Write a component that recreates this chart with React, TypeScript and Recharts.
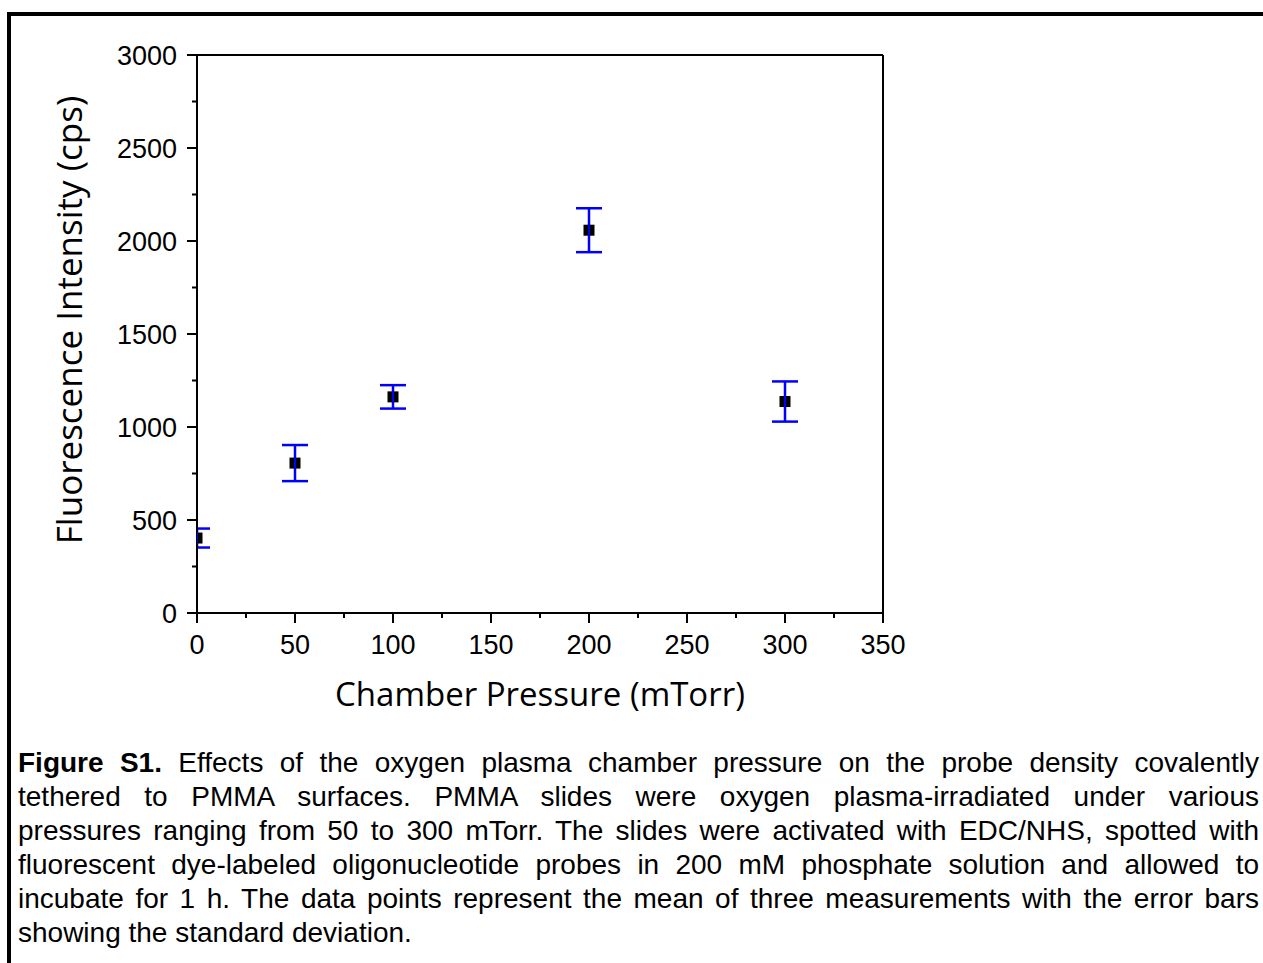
import { ScatterChart, Scatter, XAxis, YAxis, ErrorBar } from "recharts";

// chamber pressure (mTorr)
const pressure = [0, 50, 100, 200, 300];
// mean fluorescence intensity (cps)
const intensity = [403, 806, 1162, 2058, 1137];
// standard deviation (cps)
const stdDev = [51, 97, 63, 118, 108];

const xTicks = [0, 25, 50, 75, 100, 125, 150, 175, 200, 225, 250, 275, 300, 325, 350];
const yTicks = [0, 250, 500, 750, 1000, 1250, 1500, 1750, 2000, 2250, 2500, 2750, 3000];

const captionLines = [
  "tethered to PMMA surfaces. PMMA slides were oxygen plasma-irradiated under various",
  "pressures ranging from 50 to 300 mTorr. The slides were activated with EDC/NHS, spotted with",
  "fluorescent dye-labeled oligonucleotide probes in 200 mM phosphate solution and allowed to",
  "incubate for 1 h. The data points represent the mean of three measurements with the error bars",
  "showing the standard deviation.",
];

const data = pressure.map((p, i) => ({
  pressure: p,
  intensity: intensity[i],
  sd: stdDev[i],
}));

const W = 1263;
const H = 730;
const M = { top: 55, right: 380, bottom: 0, left: 0 };
const Y_AXIS_W = 197;
const X_AXIS_H = 117;

const tickFont = { fontFamily: "'Liberation Sans', Arial, sans-serif", fontSize: 27 };

const XTick = (props: any) => {
  const { x, y, payload } = props;
  const major = payload.value % 50 === 0;
  const axisY = y - 22;
  return (
    <g>
      <line x1={x} x2={x} y1={axisY} y2={axisY + (major ? 10 : 5)} stroke="#000" strokeWidth={2} />
      {major && (
        <text x={x} y={y} dy="0.72em" textAnchor="middle" fill="#000" {...tickFont}>
          {payload.value}
        </text>
      )}
    </g>
  );
};

const YTick = (props: any) => {
  const { x, y, payload } = props;
  const major = payload.value % 500 === 0;
  const axisX = x + 20;
  return (
    <g>
      <line x1={axisX} x2={axisX - (major ? 10 : 5)} y1={y} y2={y} stroke="#000" strokeWidth={2} />
      {major && (
        <text x={x} y={y} dy="0.36em" textAnchor="end" fill="#000" {...tickFont}>
          {payload.value}
        </text>
      )}
    </g>
  );
};

const YLabel = (props: any) => {
  const { viewBox } = props;
  const cy = viewBox.y + viewBox.height / 2 - 14;
  return (
    <text
      transform={`translate(82, ${cy}) rotate(-90)`}
      textAnchor="middle"
      fill="#000"
      fontFamily="'Open Sans', sans-serif"
      fontSize={35}
    >
      Fluorescence Intensity (cps)
    </text>
  );
};

const Square = (props: any) => {
  const { cx, cy } = props;
  return (
    <g clipPath="url(#plot-clip)">
      <rect x={cx - 5.5} y={cy - 5.5} width={11} height={11} fill="#000" />
      <line x1={cx} x2={cx} y1={cy - 5.5} y2={cy + 5.5} stroke="#0000ff" strokeWidth={2} />
    </g>
  );
};

const axisLine = { stroke: "#000", strokeWidth: 2 };

export default function App() {
  const plotX = M.left + Y_AXIS_W;
  const plotY = M.top;
  const plotW = W - plotX - M.right;
  const plotH = H - M.top - M.bottom - X_AXIS_H;
  return (
    <div
      style={{
        position: "absolute",
        left: 0,
        top: 0,
        width: 1263,
        height: 963,
        overflow: "hidden",
        background: "#fff",
      }}
    >
      <div
        style={{
          position: "absolute",
          left: 7,
          top: 12,
          width: 1400,
          height: 1100,
          borderLeft: "4px solid #000",
          borderTop: "4px solid #000",
        }}
      />
      <div style={{ position: "absolute", left: 0, top: 0 }}>
        <ScatterChart width={W} height={H} margin={M}>
          <defs>
            <clipPath id="plot-clip">
              <rect x={plotX} y={plotY} width={plotW} height={plotH} />
            </clipPath>
          </defs>
          <XAxis
            type="number"
            dataKey="pressure"
            domain={[0, 350]}
            ticks={xTicks}
            interval={0}
            allowDataOverflow
            height={X_AXIS_H}
            tickSize={10}
            tickMargin={12}
            tickLine={false}
            axisLine={axisLine}
            tick={<XTick />}
            label={{
              value: "Chamber Pressure (mTorr)",
              position: "insideBottom",
              offset: 24,
              fill: "#000",
              fontSize: 33,
              fontFamily: "'Open Sans', sans-serif",
            }}
          />
          <YAxis
            type="number"
            dataKey="intensity"
            domain={[0, 3000]}
            ticks={yTicks}
            interval={0}
            allowDataOverflow
            width={Y_AXIS_W}
            tickSize={10}
            tickMargin={10}
            tickLine={false}
            axisLine={axisLine}
            tick={<YTick />}
            label={YLabel}
          />
          <XAxis
            xAxisId="top"
            orientation="top"
            type="number"
            domain={[0, 350]}
            ticks={xTicks}
            interval={0}
            allowDataOverflow
            mirror
            tick={false}
            tickSize={3}
            tickLine={{ stroke: "#000", strokeWidth: 1.5 }}
            axisLine={axisLine}
          />
          <YAxis
            yAxisId="right"
            orientation="right"
            type="number"
            domain={[0, 3000]}
            ticks={yTicks}
            interval={0}
            allowDataOverflow
            mirror
            tick={false}
            tickSize={3}
            tickLine={{ stroke: "#000", strokeWidth: 1.5 }}
            axisLine={axisLine}
          />
          <Scatter data={data} shape={<Square />} isAnimationActive={false}>
            <ErrorBar
              dataKey="sd"
              direction="y"
              width={13}
              stroke="#0000ff"
              strokeWidth={2.5}
              clipPath="url(#plot-clip)"
            />
          </Scatter>
        </ScatterChart>
      </div>
      <div
        style={{
          position: "absolute",
          left: 18,
          top: 746,
          width: 1241,
          fontFamily: "'Liberation Sans', Arial, sans-serif",
          fontSize: 28,
          lineHeight: "34px",
          color: "#000",
          whiteSpace: "nowrap",
        }}
      >
        <div style={{ textAlign: "justify", textAlignLast: "justify" }}>
          <b>Figure S1.</b> Effects of the oxygen plasma chamber pressure on the probe density covalently
        </div>
        {captionLines.map((line, i) => (
          <div
            key={i}
            style={
              i < captionLines.length - 1
                ? { textAlign: "justify", textAlignLast: "justify" }
                : { textAlign: "left" }
            }
          >
            {line}
          </div>
        ))}
      </div>
    </div>
  );
}
